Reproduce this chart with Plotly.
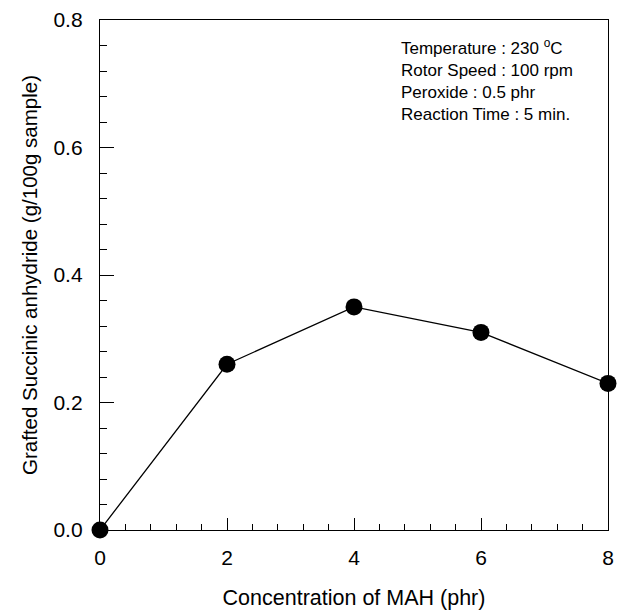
import plotly.graph_objects as go

# MAH concentration (phr) and grafted succinic anhydride (g/100g sample)
mah_conc = [0, 2, 4, 6, 8]
grafted_sa = [0.0, 0.26, 0.35, 0.31, 0.23]

x_ticks = [0, 2, 4, 6, 8]
y_ticks = [0.0, 0.2, 0.4, 0.6, 0.8]
y_tick_text = ["0.0", "0.2", "0.4", "0.6", "0.8"]

conditions = [
    "Temperature : 230 <sup>o</sup>C",
    "Rotor Speed : 100 rpm",
    "Peroxide : 0.5 phr",
    "Reaction Time : 5 min.",
]

font_family = "Liberation Sans, Arial, sans-serif"

fig = go.Figure()
fig.add_trace(go.Scatter(
    x=mah_conc,
    y=grafted_sa,
    mode="lines+markers",
    line=dict(color="black", width=1.3),
    marker=dict(color="black", size=17),
    cliponaxis=False,
    showlegend=False,
))

fig.update_layout(
    width=617,
    height=612,
    margin=dict(l=100, r=9, t=20, b=82),
    paper_bgcolor="white",
    plot_bgcolor="white",
    font=dict(family=font_family, color="black", size=21),
    xaxis=dict(
        range=[0, 8],
        tickvals=x_ticks,
        ticks="inside",
        ticklen=12,
        tickwidth=1,
        tickcolor="black",
        minor=dict(dtick=0.4, ticks="inside", ticklen=6, tickcolor="black", tickwidth=1),
        showline=True,
        linecolor="black",
        linewidth=1.3,
        mirror=True,
        showgrid=False,
        zeroline=False,
        automargin=False,
        ticklabelstandoff=9,
        tickfont=dict(size=21),
        title=dict(text="Concentration of MAH (phr)", font=dict(size=21.5), standoff=21),
    ),
    yaxis=dict(
        range=[0, 0.8],
        tickvals=y_ticks,
        ticktext=y_tick_text,
        ticks="inside",
        ticklen=14,
        tickwidth=1,
        tickcolor="black",
        minor=dict(dtick=0.04, ticks="inside", ticklen=7, tickcolor="black", tickwidth=1),
        showline=True,
        linecolor="black",
        linewidth=1.3,
        mirror=True,
        showgrid=False,
        zeroline=False,
        automargin=False,
        ticklabelstandoff=12,
        tickfont=dict(size=21),
        title=dict(text="Grafted Succinic anhydride (g/100g sample)", font=dict(size=20.5), standoff=10),
    ),
    annotations=[
        dict(
            x=0.588, y=0.972, xref="paper", yref="paper",
            xanchor="left", yanchor="top",
            align="left",
            showarrow=False,
            text="<br>".join(conditions),
            font=dict(size=17, family=font_family, color="black"),
        )
    ],
)

fig.write_html("out.html")
